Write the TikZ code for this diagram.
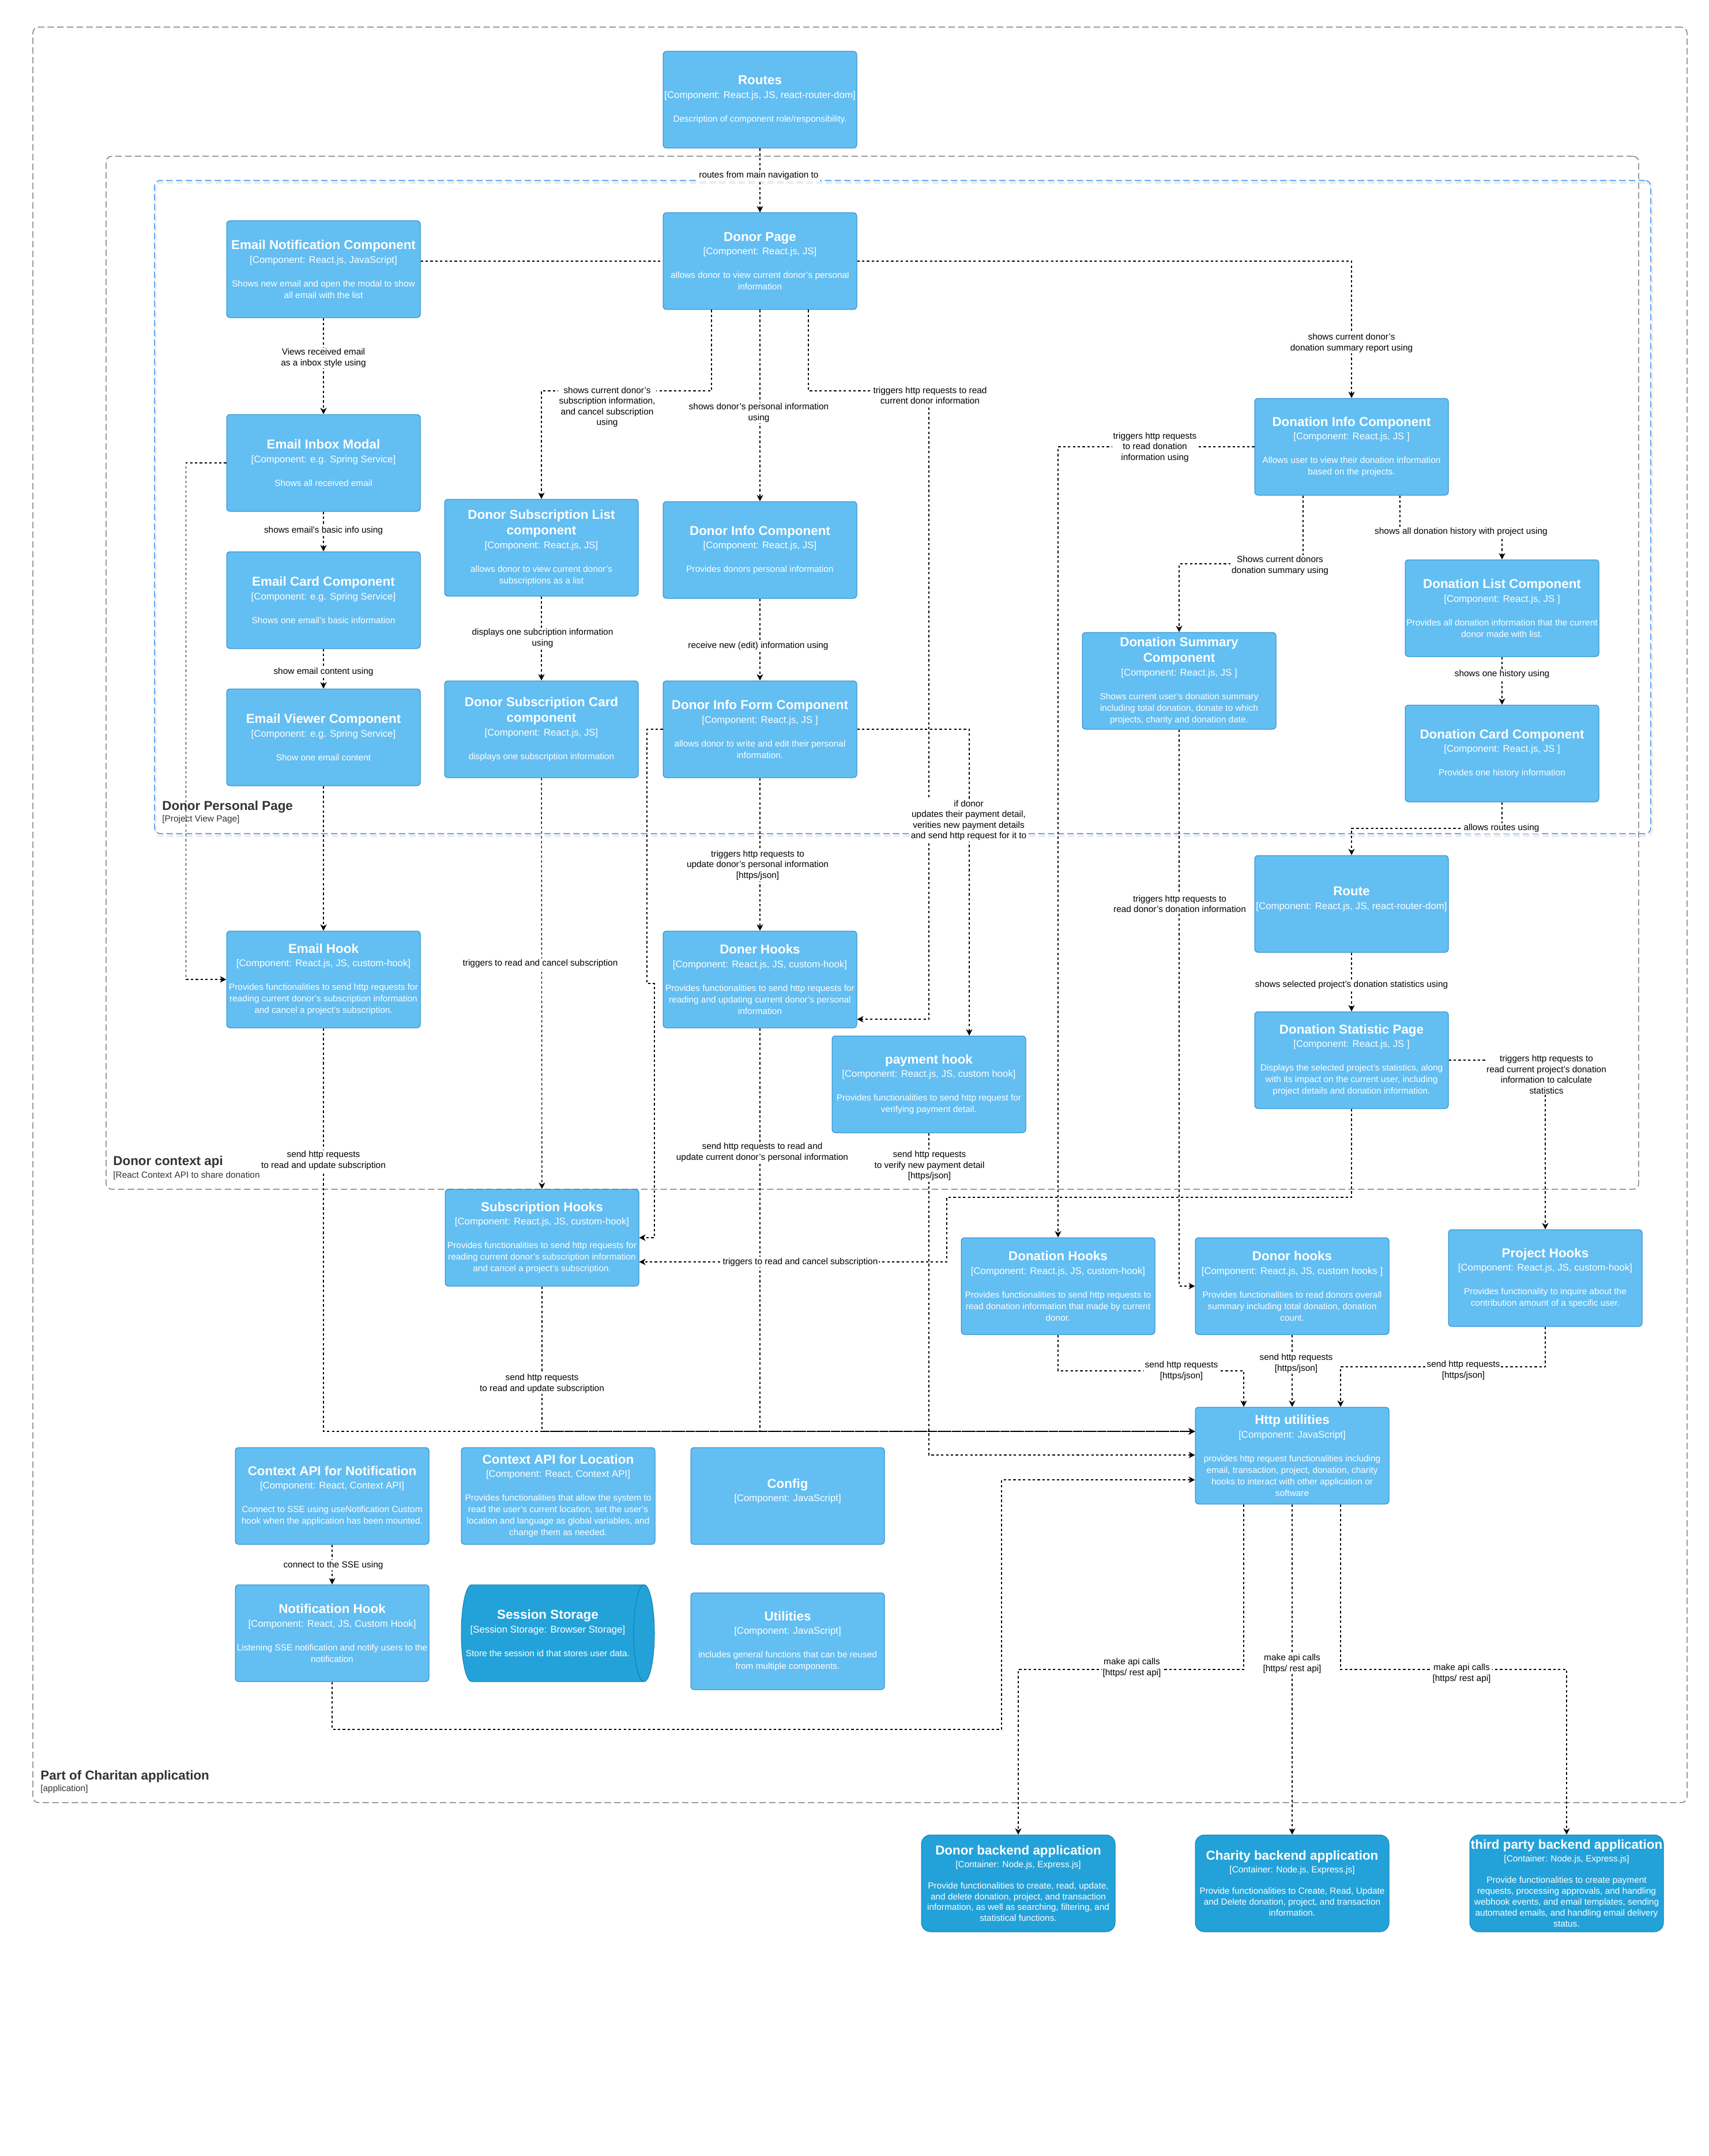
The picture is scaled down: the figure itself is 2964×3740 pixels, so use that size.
\documentclass[tikz,border=0pt]{standalone}
\usepackage{fontspec}
\setmainfont{Liberation Sans}
\usetikzlibrary{arrows.meta}

\definecolor{compfill}{HTML}{63BEF2}
\definecolor{compline}{HTML}{2086C9}
\definecolor{contfill}{HTML}{23A2D9}
\definecolor{contline}{HTML}{0E7DAD}
\definecolor{boundgray}{HTML}{666666}
\definecolor{boundblue}{HTML}{1A7FF5}
\definecolor{labelgray}{HTML}{333333}

% text parts of a C4 element
\newcommand{\nodetitle}[1]{{\fontsize{11.2}{10}\selectfont\bfseries #1}}
\newcommand{\nodetech}[1]{{\fontsize{8.4}{10}\selectfont #1}}
\newcommand{\bodyfont}{\fontsize{7.7}{10}\selectfont}
\newcommand{\contfont}{\fontsize{7.7}{9.4}\selectfont}
\newcommand{\relfont}{\fontsize{7.7}{9.2}\selectfont}
\newcommand{\boundfont}{\fontsize{11.2}{13}\selectfont\bfseries}

\begin{document}
\lineskiplimit=-40pt
\begin{tikzpicture}[x=0.5pt,y=-0.5pt,
  every node/.style={font=\bodyfont},
  comp/.style={rectangle, rounded corners=3pt, fill=compfill, draw=compline, line width=0.5pt,
    text=white, minimum width=168pt, minimum height=84pt, inner sep=0pt, align=center},
  contnode/.style={comp, rounded corners=8pt, fill=contfill, draw=contline, font=\contfont},
  rel/.style={line width=0.7pt, dash pattern=on 2.1pt off 2.1pt,
    -{Stealth[length=5.5pt,width=5.5pt,inset=1.6pt]}},
  lbl/.style={fill=white, inner sep=1pt, align=center, text=black, font=\relfont},
  bound/.style={draw=boundgray, dash pattern=on 5.6pt off 2.8pt, line width=0.6pt,
    rounded corners=5pt, inner sep=0pt},
  boundlbl/.style={anchor=west, inner sep=0pt, text=labelgray},
  boundttl/.style={boundlbl, font=\boundfont},
]
\fill[white] (0,0) rectangle (2964,3740);
\useasboundingbox (0,0) rectangle (2964,3740);

% ---------- boundaries ----------
\node[bound, minimum width=1434.5pt, minimum height=1540pt] (app) at (1491.5,1587) {};
\node[bound, minimum width=1329pt, minimum height=896pt] (ctxapi) at (1513,1167) {};
\node[bound, draw=black, draw opacity=0.07, line width=2.4pt,
  minimum width=1297.5pt, minimum height=566.5pt] (pageshadow) at (1567,883) {};
\node[bound, draw=boundblue, minimum width=1297.5pt, minimum height=566.5pt] (page) at (1565.5,879.5) {};

\node[boundttl] (apptitle) at (70,3082) {Part of Charitan application};
\node[boundlbl] (apptech) at (70,3103) {[application]};
\node[boundttl] (ctxtitle) at (196,2016) {Donor context api};
\node[boundlbl] (ctxtech) at (196,2039) {[React Context API to share donation};
\node[boundttl] (pagetitle) at (281,1400) {Donor Personal Page};
\node[boundlbl] (pagetech) at (281,1422) {[Project View Page]};

% ---------- components ----------
\node[comp] (routes) at (1318,173) {\nodetitle{Routes}\\[1.75pt]\nodetech{[Component: React.js, JS, react-router-dom]}\\[10.5pt]Description of component role/responsibility.};
\node[comp] (dp) at (1318,453) {\nodetitle{Donor Page}\\[1.75pt]\nodetech{[Component: React.js, JS]}\\[10.5pt]allows donor to view current donor's personal\\information};
\node[comp] (enc) at (561,467) {\nodetitle{Email Notification Component}\\[1.75pt]\nodetech{[Component: React.js, JavaScript]}\\[10.5pt]Shows new email and open the modal to show\\all email with the list};
\node[comp] (eim) at (561,803) {\nodetitle{Email Inbox Modal}\\[1.75pt]\nodetech{[Component: e.g. Spring Service]}\\[10.5pt]Shows all received email};
\node[comp] (ecc) at (561,1041) {\nodetitle{Email Card Component}\\[1.75pt]\nodetech{[Component: e.g. Spring Service]}\\[10.5pt]Shows one email's basic information};
\node[comp] (evc) at (561,1279) {\nodetitle{Email Viewer Component}\\[1.75pt]\nodetech{[Component: e.g. Spring Service]}\\[10.5pt]Show one email content};
\node[comp] (dsl) at (939,950) {\nodetitle{Donor Subscription List}\\[3.5pt]\nodetitle{component}\\[1.75pt]\nodetech{[Component: React.js, JS]}\\[10.5pt]allows donor to view current donor's\\subscriptions as a list};
\node[comp] (dsc) at (939,1265) {\nodetitle{Donor Subscription Card}\\[3.5pt]\nodetitle{component}\\[1.75pt]\nodetech{[Component: React.js, JS]}\\[10.5pt]displays one subscription information};
\node[comp] (dic) at (1318,954) {\nodetitle{Donor Info Component}\\[1.75pt]\nodetech{[Component: React.js, JS]}\\[10.5pt]Provides donors personal information};
\node[comp] (dif) at (1318,1265) {\nodetitle{Donor Info Form Component}\\[1.75pt]\nodetech{[Component: React.js, JS ]}\\[10.5pt]allows donor to write and edit their personal\\information.};
\node[comp] (doninfo) at (2344,775) {\nodetitle{Donation Info Component}\\[1.75pt]\nodetech{[Component: React.js, JS ]}\\[10.5pt]Allows user to view their donation information\\based on the projects.};
\node[comp] (dsum) at (2045,1181) {\nodetitle{Donation Summary}\\[3.5pt]\nodetitle{Component}\\[1.75pt]\nodetech{[Component: React.js, JS ]}\\[10.5pt]Shows current user's donation summary\\including total donation, donate to which\\projects, charity and donation date.};
\node[comp] (dlist) at (2605,1055) {\nodetitle{Donation List Component}\\[1.75pt]\nodetech{[Component: React.js, JS ]}\\[10.5pt]Provides all donation information that the current\\donor made with list.};
\node[comp] (dcard) at (2605,1307) {\nodetitle{Donation Card Component}\\[1.75pt]\nodetech{[Component: React.js, JS ]}\\[10.5pt]Provides one history information};
\node[comp] (route) at (2344,1568) {\nodetitle{Route}\\[1.75pt]\nodetech{[Component: React.js, JS, react-router-dom]}\\\mbox{}};
\node[comp] (dstat) at (2344,1839) {\nodetitle{Donation Statistic Page}\\[1.75pt]\nodetech{[Component: React.js, JS ]}\\[10.5pt]Displays the selected project's statistics, along\\with its impact on the current user, including\\project details and donation information.};
\node[comp] (ehook) at (561,1699) {\nodetitle{Email Hook}\\[1.75pt]\nodetech{[Component: React.js, JS, custom-hook]}\\[10.5pt]Provides functionalities to send http requests for\\reading current donor's subscription information\\and cancel a project's subscription.};
\node[comp] (dhooks) at (1318,1699) {\nodetitle{Doner Hooks}\\[1.75pt]\nodetech{[Component: React.js, JS, custom-hook]}\\[10.5pt]Provides functionalities to send http requests for\\reading and updating current donor's personal\\information};
\node[comp] (phook) at (1611,1881) {\nodetitle{payment hook}\\[1.75pt]\nodetech{[Component: React.js, JS, custom hook]}\\[10.5pt]Provides functionalities to send http request for\\verifying payment detail.};
\node[comp] (shooks) at (940,2147) {\nodetitle{Subscription Hooks}\\[1.75pt]\nodetech{[Component: React.js, JS, custom-hook]}\\[10.5pt]Provides functionalities to send http requests for\\reading current donor's subscription information\\and cancel a project's subscription.};
\node[comp] (donhooks) at (1835,2231) {\nodetitle{Donation Hooks}\\[1.75pt]\nodetech{[Component: React.js, JS, custom-hook]}\\[10.5pt]Provides functionalities to send http requests to\\read donation information that made by current\\donor.};
\node[comp] (dnhooks) at (2241,2231) {\nodetitle{Donor hooks}\\[1.75pt]\nodetech{[Component: React.js, JS, custom hooks ]}\\[10.5pt]Provides functionalities to read donors overall\\summary including total donation, donation\\count.};
\node[comp] (phooks) at (2680,2217) {\nodetitle{Project Hooks}\\[1.75pt]\nodetech{[Component: React.js, JS, custom-hook]}\\[10.5pt]Provides functionality to inquire about the\\contribution amount of a specific user.};
\node[comp] (http) at (2241,2525) {\nodetitle{Http utilities}\\[1.75pt]\nodetech{[Component: JavaScript]}\\[10.5pt]provides http request functionalities including\\email, transaction, project, donation, charity\\hooks to interact with other application or\\software};
\node[comp] (ctxn) at (576,2595) {\nodetitle{Context API for Notification}\\[1.75pt]\nodetech{[Component: React, Context API]}\\[10.5pt]Connect to SSE using useNotification Custom\\hook when the application has been mounted.};
\node[comp] (ctxl) at (968,2595) {\nodetitle{Context API for Location}\\[1.75pt]\nodetech{[Component: React, Context API]}\\[10.5pt]Provides functionalities that allow the system to\\read the user's current location, set the user's\\location and language as global variables, and\\change them as needed.};
\node[comp] (config) at (1366,2595) {\nodetitle{Config}\\[1.75pt]\nodetech{[Component: JavaScript]}\\\mbox{}};
\node[comp] (nhook) at (576,2833) {\nodetitle{Notification Hook}\\[1.75pt]\nodetech{[Component: React, JS, Custom Hook]}\\[10.5pt]Listening SSE notification and notify users to the\\notification};
\node[comp] (util) at (1366,2847) {\nodetitle{Utilities}\\[1.75pt]\nodetech{[Component: JavaScript]}\\[10.5pt]includes general functions that can be reused\\from multiple components.};

% session storage drawn as a horizontal cylinder
\node[inner sep=0pt, minimum width=168pt, minimum height=84pt] (session) at (968,2833) {};
\filldraw[fill=contfill, draw=contline, line width=0.5pt]
  (818,2749) -- (1117,2749) arc[start angle=90, end angle=-90, x radius=9pt, y radius=42pt]
  -- (818,2917) arc[start angle=270, end angle=90, x radius=9pt, y radius=42pt] -- cycle;
\draw[contline, line width=0.5pt] (1117,2749) arc[start angle=90, end angle=270, x radius=9pt, y radius=42pt];
\node[align=center, text=white, inner sep=0pt] (sessiontext) at (950,2833) {\nodetitle{Session Storage}\\[1.75pt]\nodetech{[Session Storage: Browser Storage]}\\[10.5pt]Store the session id that stores user data.};

% ---------- backend containers ----------
\node[contnode] (dback) at (1766,3267) {\nodetitle{Donor backend application}\\[1.6pt]{[Container: Node.js, Express.js]}\\[9.1pt]Provide functionalities to create, read, update,\\and delete donation, project, and transaction\\information, as well as searching, filtering, and\\statistical functions.};
\node[contnode] (cback) at (2241,3267) {\nodetitle{Charity backend application}\\[1.6pt]{[Container: Node.js, Express.js]}\\[9.1pt]Provide functionalities to Create, Read, Update\\and Delete donation, project, and transaction\\information.};
\node[contnode] (tback) at (2717,3267) {\nodetitle{third party backend application}\\[1.6pt]{[Container: Node.js, Express.js]}\\[9.1pt]Provide functionalities to create payment\\requests, processing approvals, and handling\\webhook events, and email templates, sending\\automated emails, and handling email delivery\\status.};

% ---------- relationships ----------
\draw[rel] (routes) -- (dp);
\draw[rel, -] (enc.east |- dp.west) -- (dp.west);
\draw[rel] (enc) -- (eim);
\draw[rel] (eim) -- (ecc);
\draw[rel] (ecc) -- (evc);
\draw[rel] (eim.west) -- ++(-70,0) |- (ehook.west);
\draw[rel] (evc) -- (ehook);
\draw[rel] (ehook.south) |- (http.west |- 0,2483);
\draw[rel] (shooks.south) |- (http.west |- 0,2483);
\draw[rel] (dhooks.south) |- (http.west |- 0,2483);
\draw[rel] (phook.south) |- (http.west |- 0,2524);
\draw[rel] (nhook.south) |- (1737,3000) |- (http.west |- 0,2567);
\draw[rel] (ctxn) -- (nhook);
\draw[rel] (dp.south -| 1234,0) -- (1234,678) -| (dsl.north);
\draw[rel] (dp) -- (dic);
\draw[rel] (dp.south -| 1402,0) |- (1611,678) |- (dhooks.east |- 0,1768);
\draw[rel] (dic) -- (dif);
\draw[rel] (dsl) -- (dsc);
\draw[rel] (dsc) -- (shooks);
\draw[rel] (dif.west) -| (1122,1706) -| (1135,2147) -- (shooks.east);
\draw[rel] (dif) -- (dhooks);
\draw[rel] (dif.east) -| (phook.north -| 1681,0);
\draw[rel] (dp.east) -| (doninfo.north);
\draw[rel] (doninfo.west) -| (donhooks.north);
\draw[rel] (doninfo.south -| 2260,0) -- (2260,978) -| (dsum.north);
\draw[rel] (doninfo.south -| 2428,0) -- (2428,923) -| (dlist.north);
\draw[rel] (dlist) -- (dcard);
\draw[rel] (dcard.south) -- (2605,1437) -| (route.north);
\draw[rel] (dsum.south) |- (dnhooks.west);
\draw[rel] (route) -- (dstat);
\draw[rel] (dstat.south) |- (1642,2077) |- (shooks.east |- 0,2189);
\draw[rel] (dstat.east) -| (phooks.north);
\draw[rel] (donhooks.south) |- (2157,2378) -- (http.north -| 2157,0);
\draw[rel] (dnhooks) -- (http);
\draw[rel] (phooks.south) |- (2325,2371) -- (http.north -| 2325,0);
\draw[rel] (http.south -| 2157,0) |- (1766,2896) -- (dback.north);
\draw[rel] (http) -- (cback);
\draw[rel] (http.south -| 2325,0) |- (2717,2896) -- (tback.north);

% ---------- relationship labels ----------
\node[lbl] (l1) at (1316,305) {routes from main navigation to};
\node[lbl] (l3) at (561,621) {Views received email\\as a inbox style using};
\node[lbl] (l4) at (561,921) {shows email's basic info using};
\node[lbl] (l5) at (561,1166) {show email content using};
\node[lbl] (l8) at (561,2013) {send http requests\\to read and update subscription};
\node[lbl] (l9) at (940,2400) {send http requests\\to read and update subscription};
\node[lbl] (l10) at (1322,1999) {send http requests to read and\\update current donor's personal information};
\node[lbl] (l11) at (1612,2022) {send http requests\\to verify new payment detail\\{[https/json]}};
\node[lbl] (l13) at (578,2715) {connect to the SSE using};
\node[lbl] (l14) at (1053,706) {shows current donor's\\subscription information,\\and cancel subscription\\using};
\node[lbl] (l15) at (1316,716) {shows donor's personal information\\using};
\node[lbl] (l16) at (1613,686) {triggers http requests to read\\current donor information};
\node[lbl] (l17) at (1315,1121) {receive new (edit) information using};
\node[lbl] (l18) at (941,1107) {displays one subcription information\\using};
\node[lbl] (l19) at (937,1672) {triggers to read and cancel subscription};
\node[lbl] (l21) at (1314,1501) {triggers http requests to\\update donor's personal information\\{[https/json]}};
\node[lbl] (l22) at (1680,1423) {if donor\\updates their payment detail,\\verities new payment details\\and send http request for it to};
\node[lbl] (l23) at (2344,595) {shows current donor's\\donation summary report using};
\node[lbl] (l24) at (2003,776) {triggers http requests\\to read donation\\information using};
\node[lbl] (l25) at (2220,981) {Shows current donors\\donation summary using};
\node[lbl] (l26) at (2534,923) {shows all donation history with project using};
\node[lbl] (l27) at (2605,1170) {shows one history using};
\node[lbl] (l28) at (2604,1437) {allows routes using};
\node[lbl] (l29) at (2046,1568) {triggers http requests to\\read donor's donation information};
\node[lbl] (l30) at (2344,1709) {shows selected project's donation statistics using};
\node[lbl] (l31) at (1388,2189) {triggers to read and cancel subscription};
\node[lbl] (l32) at (2682,1864) {triggers http requests to\\read current project's donation\\information to calculate\\statistics};
\node[lbl] (l33) at (2049,2378) {send http requests\\{[https/json]}};
\node[lbl] (l34) at (2248,2365) {send http requests\\{[https/json]}};
\node[lbl] (l35) at (2538,2377) {send http requests\\{[https/json]}};
\node[lbl] (l36) at (1963,2893) {make api calls\\{[https/ rest api]}};
\node[lbl] (l37) at (2241,2886) {make api calls\\{[https/ rest api]}};
\node[lbl] (l38) at (2535,2903) {make api calls\\{[https/ rest api]}};
\end{tikzpicture}
\end{document}
